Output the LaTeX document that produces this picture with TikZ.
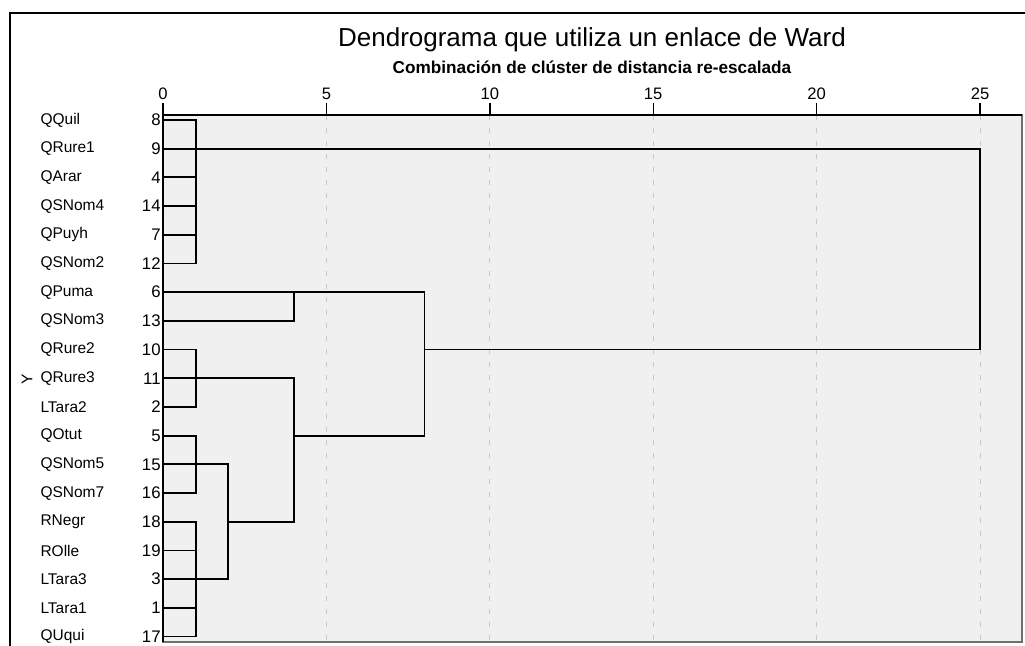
\documentclass[tikz,border=0pt]{standalone}
\usepackage{fontspec}
\setmainfont{Liberation Sans}
\definecolor{plotbg}{HTML}{F0F0F0}
\definecolor{gridgray}{HTML}{C8C8C8}
\definecolor{framegray}{HTML}{6E6E6E}

\begin{document}
\begin{tikzpicture}[x=0.5pt,y=-0.5pt,
	leafname/.style={anchor=west,inner sep=0pt,font=\fontsize{7.75}{9}\selectfont},
	leafnum/.style={anchor=east,inner xsep=1pt,inner ysep=0pt,font=\fontsize{8.4}{9}\selectfont},
	ticklab/.style={inner sep=0pt,font=\fontsize{8.3}{9}\selectfont},
	gridline/.style={gridgray,line width=0.5pt,dash pattern=on 2.5pt off 4pt},
	link/.style={line width=0.9pt,line cap=rect}]
	\useasboundingbox (0,0) rectangle (1025,646);
	\clip (0,0) rectangle (1025,646);
	\draw[line width=1.3pt] (10,13) rectangle (1080,700);
	\fill[plotbg] (163,115) rectangle (1022,642);
	\draw[framegray,line width=0.6pt] (163,115) rectangle (1022,642);
	\foreach \t in {5,10,...,25} {\draw[gridline] ({163+32.68*\t},115) -- ({163+32.68*\t},642);}
	\draw[line width=0.7pt] (163,115) -- (1022,115);
	\draw[line width=0.7pt] (163,115) -- (163,642);
	\foreach \t in {0,5,...,25} {
		\draw[line width=0.7pt] ({163+32.68*\t},103) -- ({163+32.68*\t},115);
		\node[ticklab] (t\t) at ({163+32.68*\t},94) {\t};
	}
	\node[font=\fontsize{13}{15}\selectfont] (title) at (592,40) {Dendrograma que utiliza un enlace de Ward};
	\node[font=\bfseries\fontsize{8.6}{10}\selectfont] (subtitle) at (592,67) {Combinación de clúster de distancia re-escalada};
	\node[leafname,anchor=center,rotate=90] (ylab) at (27,379) {Y};
	\begin{scope}[shift={(163,120)},x=16.34pt,y=-14.35pt]
		\foreach \r/\n/\k in {0/QQuil/8, 1/QRure1/9, 2/QArar/4, 3/QSNom4/14, 4/QPuyh/7, 5/QSNom2/12, 6/QPuma/6, 7/QSNom3/13, 8/QRure2/10, 9/QRure3/11, 10/LTara2/2, 11/QOtut/5, 12/QSNom5/15, 13/QSNom7/16, 14/RNegr/18, 15/ROlle/19, 16/LTara3/3, 17/LTara1/1, 18/QUqui/17} {
			\node[leafname] (name\k) at (-3.76,\r) {\n};
			\node[leafnum] (c\k) at (0,\r) {\k};
		}
		\coordinate (mA) at (1,1);
		\coordinate (mB) at (4,6);
		\coordinate (mC) at (1,9);
		\coordinate (mD) at (1,12);
		\coordinate (mE) at (1,16);
		\coordinate (mF) at (2,14);
		\coordinate (mG) at (4,11);
		\coordinate (mH) at (8,8);
		\coordinate (mR) at (25,1);
		\foreach \u/\v in {c8/mA, c9/mA, c4/mA, c14/mA, c7/mA, c12/mA, c6/mB, c13/mB, c10/mC, c11/mC, c2/mC, c5/mD, c15/mD, c16/mD, c18/mE, c19/mE, c3/mE, c1/mE, c17/mE} {\draw[link] (\u.east) -- (\u.east -| \v);}
		\foreach \u/\v in {mA/mR, mB/mH, mC/mG, mD/mF, mE/mF, mF/mG, mG/mH, mH/mR} {\draw[link] (\u) -- (\u -| \v);}
		\foreach \m/\a/\b in {mA/c8.east/c12.east, mB/c6.east/c13.east, mC/c10.east/c2.east, mD/c5.east/c16.east, mE/c18.east/c17.east, mF/mD/mE, mG/mC/mF, mH/mB/mG, mR/mA/mH} {\draw[link] (\a -| \m) -- (\b -| \m);}
	\end{scope}
\end{tikzpicture}
\end{document}
